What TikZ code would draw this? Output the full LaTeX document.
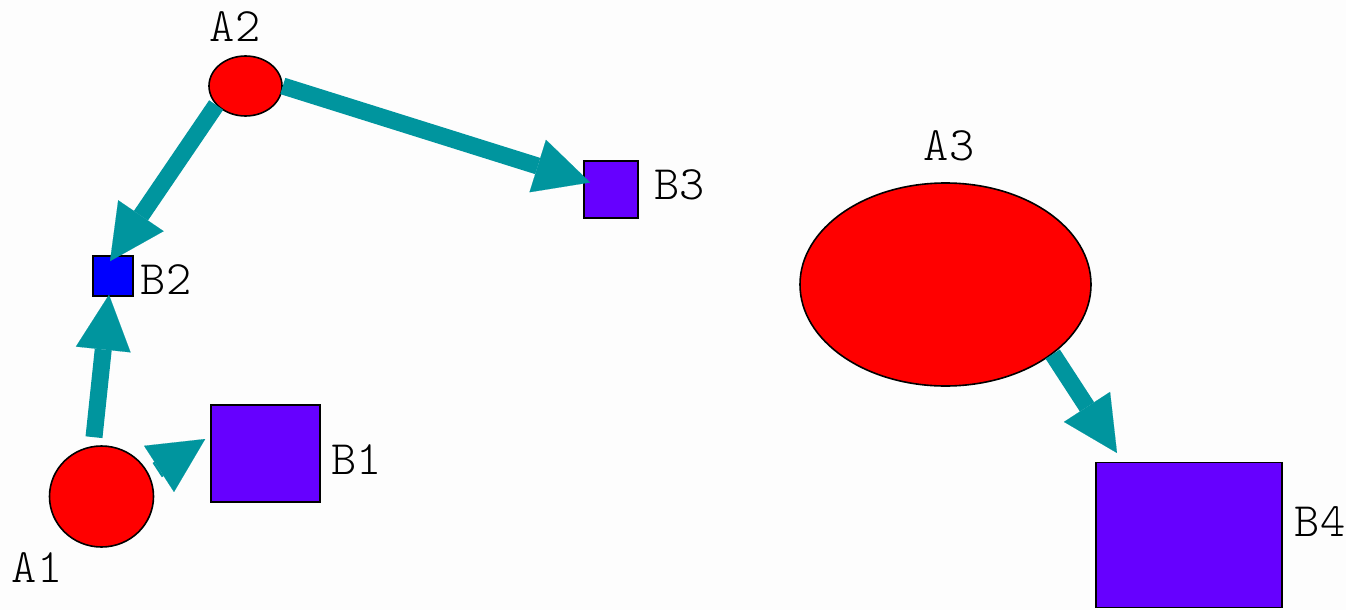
\documentclass[tikz,border=0pt]{standalone}
\usetikzlibrary{arrows.meta,calc,shapes.geometric}
\definecolor{arrowteal}{RGB}{0,149,158}
\definecolor{boxviolet}{RGB}{102,0,255}
\definecolor{boxblue}{RGB}{0,0,255}
\definecolor{nodered}{RGB}{255,0,0}
\definecolor{paper}{RGB}{253,253,253}
\begin{document}
\begin{tikzpicture}[x=1pt,y=-1pt,
  roundnode/.style={ellipse, draw=black, line width=1.6pt, fill=nodered, inner sep=0pt},
  boxnode/.style={rectangle, draw=black, line width=1.6pt, fill=boxviolet, inner sep=0pt},
  tag/.style={font=\fontsize{48}{48}\ttfamily\fontseries{l}\selectfont, inner sep=0pt},
  link/.style={draw=arrowteal, line width=17pt,
    -{Triangle[length=55pt,width=55pt,line width=0.1pt]}}
]
% canvas
\fill[paper] (0,0) rectangle (1346,610);
\useasboundingbox (0,0) rectangle (1346,610);

% round nodes
\node[roundnode, minimum width=73pt, minimum height=60pt] (A2) at (245.5,86) {};
\node[roundnode, minimum width=104pt, minimum height=101pt] (A1) at (101.5,496.5) {};
\node[roundnode, minimum width=291pt, minimum height=203pt] (A3) at (945.5,284.5) {};

% square nodes
\node[boxnode, fill=boxblue, minimum width=40pt, minimum height=40pt] (B2) at (113,276) {};
\node[boxnode, minimum width=54pt, minimum height=57pt] (B3) at (611,189.5) {};
\node[boxnode, minimum width=109pt, minimum height=97pt] (B1) at (265.5,453.5) {};
\node[boxnode, minimum width=186pt, minimum height=145pt] (B4) at (1189,535) {};

% labels
\node[tag] (tA2) at (235,27) {A2};
\node[tag] (tA1) at (37,568) {A1};
\node[tag] (tA3) at (949,146) {A3};
\node[tag] (tB2) at (166,280) {B2};
\node[tag] (tB3) at (679.5,185) {B3};
\node[tag] (tB1) at (356.5,460) {B1};
\node[tag] (tB4) at (1320,522) {B4};

% links
\draw[link] (A2.213) -- ($(B2.north)+(-3,6)$);
\draw[link] (A2.east) -- ($(B3.west)+(7,-7)$);
\draw[link] ($(A1.north)+(-7.5,-8)$) -- ($(B2.south)+(-4,-2)$);
\draw[link] ($(A1.center)+(55.7,-26.4)$) -- ($(B1.west)+(-5,-14.5)$);
\draw[link] (A3.-33) -- ($(B4.north)+(-72,-8.7)$);
\end{tikzpicture}
\end{document}
